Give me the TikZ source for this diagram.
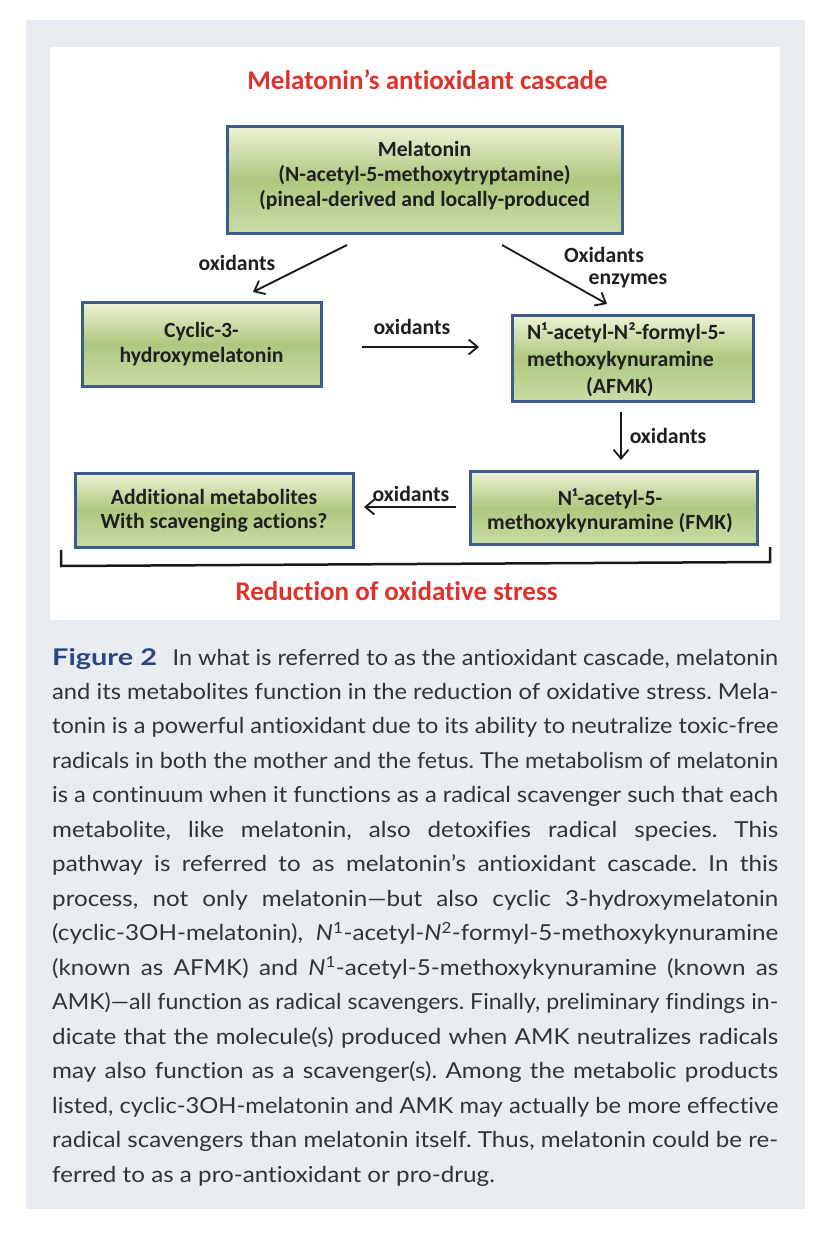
\documentclass[tikz,border=0pt]{standalone}
\usepackage{fontspec}
\usepackage{graphicx}
\setmainfont{Lato}[FakeStretch=1.1, Ligatures={NoCommon}]
\newfontfamily\diagfont{Carlito}[Ligatures={NoCommon}]
\usetikzlibrary{arrows.meta}
\definecolor{panel}{HTML}{E8EDF2}
\definecolor{boxborder}{HTML}{3C5B8C}
\definecolor{gtop}{HTML}{EEF3D6}
\definecolor{gmid}{HTML}{AEC77F}
\definecolor{gbot}{HTML}{CADCA6}
\definecolor{titlered}{HTML}{E0312B}
\definecolor{figblue}{HTML}{2C4580}
\definecolor{captext}{HTML}{333333}
\newlength\jlw
\newcommand\jline[1]{\settowidth\jlw{#1}\ifdim\jlw>726pt\resizebox{726pt}{\height}{#1}\else\makebox[726pt][s]{#1}\fi}
\frenchspacing
\begin{document}
\begin{tikzpicture}[x=1pt,y=-1pt,
 box/.style={draw=boxborder, line width=3pt, top color=gtop, bottom color=gbot, middle color=gmid, inner sep=0pt},
 btext/.style={font=\diagfont\bfseries\fontsize{21.7}{25}\selectfont, align=center, text=black!88, inner sep=0pt},
 lbl/.style={font=\diagfont\bfseries\fontsize{21.7}{25}\selectfont, text=black!88, inner sep=0pt},
 ttl/.style={font=\diagfont\bfseries\fontsize{27}{32}\selectfont, text=titlered, inner sep=0pt},
 arr/.style={line width=1.8pt, draw=black!90, -{Straight Barb[length=9pt,width=15pt,line width=1.8pt]}},
 capline/.style={anchor=base west, inner sep=0pt, text=captext, font=\fontsize{22}{34.5}\selectfont}
]
\path[use as bounding box, fill=white] (0,0) rectangle (828,1234);
\fill[panel] (26,20) rectangle (805,1209);
\fill[white] (50,47) rectangle (780,620);

\node[ttl] (title) at (427.5,80) {Melatonin’s antioxidant cascade};

\node[box, minimum width=395, minimum height=107] (mel) at (424.5,179.5) {};
\node[btext] (melT) at (424.5,176) {Melatonin\\(N-acetyl-5-methoxytryptamine)\\(pineal-derived and locally-produced};

\node[box, minimum width=239, minimum height=84] (cyc) at (201.5,344) {};
\node[btext] (cycT) at (201.5,344) {Cyclic-3-\\hydroxymelatonin};

\node[box, minimum width=241, minimum height=86] (afmk) at (632.5,358) {};
\node[btext, align=left, anchor=west, font=\diagfont\bfseries\fontsize{21.7}{27}\selectfont] (afmkT) at (527,360) {N¹-acetyl-N²-formyl-5-\\methoxykynuramine\\\hspace*{59pt}(AFMK)};

\node[box, minimum width=287, minimum height=73] (fmk) at (613.5,507.5) {};
\node[btext, font=\diagfont\bfseries\fontsize{21.7}{24}\selectfont] (fmkT) at (610,511) {N¹-acetyl-5-\\methoxykynuramine (FMK)};

\node[box, minimum width=278, minimum height=74] (add) at (214,510) {};
\node[btext, font=\diagfont\bfseries\fontsize{21.7}{24}\selectfont] (addT) at (214,511) {Additional metabolites\\With scavenging actions?};

\coordinate (a1s) at (347,245); \coordinate (a1e) at (253,292);
\coordinate (a2s) at (502,245); \coordinate (a2e) at (607,304);
\coordinate (a3s) at (362,347); \coordinate (a3e) at (479,347);
\coordinate (a4s) at (621,412); \coordinate (a4e) at (621,460);
\coordinate (a5s) at (456,507); \coordinate (a5e) at (364,507);
\draw[arr] (a1s) -- (a1e);
\draw[arr] (a2s) -- (a2e);
\draw[arr] (a3s) -- (a3e);
\draw[arr] (a4s) -- (a4e);
\draw[arr] (a5s) -- (a5e);

\node[lbl] (l1) at (237,263) {oxidants};
\node[lbl] (l2) at (604,255) {Oxidants};
\node[lbl] (l3) at (628,281) {enzymes};
\node[lbl] (l4) at (412,327) {oxidants};
\node[lbl] (l5) at (668,436) {oxidants};
\node[lbl] (l6) at (411,494) {oxidants};

\coordinate (bl) at (61,550); \coordinate (bl2) at (61,566);
\coordinate (br2) at (770,562); \coordinate (br) at (770,547);
\draw[line width=2.5pt, black!90] (bl) -- (bl2) -- (br2) -- (br);

\node[ttl] (red) at (396.5,591) {Reduction of oxidative stress};

\node[capline] (c1) at (52,665) {\jline{\resizebox{108pt}{\height}{\fontsize{23}{30}\selectfont\bfseries\color{figblue}Figure 2}\hspace{16pt}In what is referred to as the antioxidant cascade, melatonin}};
\node[capline] (c2) at (52,699.47) {\jline{and its metabolites function in the reduction of oxidative stress. Mela-}};
\node[capline] (c3) at (52,733.93) {\jline{tonin is a powerful antioxidant due to its ability to neutralize toxic-free}};
\node[capline] (c4) at (52,768.4) {\jline{radicals in both the mother and the fetus. The metabolism of melatonin}};
\node[capline] (c5) at (52,802.87) {\jline{is a continuum when it functions as a radical scavenger such that each}};
\node[capline] (c6) at (52,837.33) {\jline{metabolite, like melatonin, also detoxifies radical species. This}};
\node[capline] (c7) at (52,871.8) {\jline{pathway is referred to as melatonin’s antioxidant cascade. In this}};
\node[capline] (c8) at (52,906.27) {\jline{process, not only melatonin—but also cyclic 3-hydroxymelatonin}};
\node[capline] (c9) at (52,940.73) {\jline{(cyclic-3OH-melatonin), \textit{N}\textsuperscript{1}-acetyl-\textit{N}\textsuperscript{2}-formyl-5-methoxykynuramine}};
\node[capline] (c10) at (52,975.2) {\jline{(known as AFMK) and \textit{N}\textsuperscript{1}-acetyl-5-methoxykynuramine (known as}};
\node[capline] (c11) at (52,1009.67) {\jline{AMK)—all function as radical scavengers. Finally, preliminary findings in-}};
\node[capline] (c12) at (52,1044.13) {\jline{dicate that the molecule(s) produced when AMK neutralizes radicals}};
\node[capline] (c13) at (52,1078.6) {\jline{may also function as a scavenger(s). Among the metabolic products}};
\node[capline] (c14) at (52,1113.07) {\jline{listed, cyclic-3OH-melatonin and AMK may actually be more effective}};
\node[capline] (c15) at (52,1147.53) {\jline{radical scavengers than melatonin itself. Thus, melatonin could be re-}};
\node[capline] (c16) at (52,1182) {ferred to as a pro-antioxidant or pro-drug.};
\end{tikzpicture}
\end{document}
